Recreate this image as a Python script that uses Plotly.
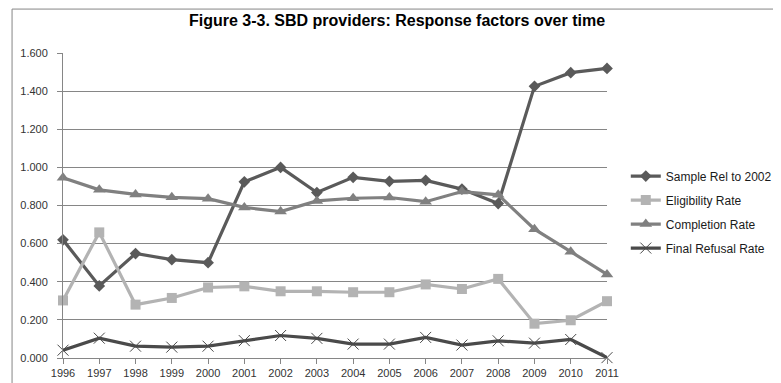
import plotly.graph_objects as go

years = list(range(1996, 2012))
sample_rel = [0.620, 0.378, 0.548, 0.516, 0.500, 0.924, 1.000, 0.868, 0.948, 0.927, 0.932, 0.886, 0.810, 1.425, 1.497, 1.519]
eligibility = [0.302, 0.659, 0.280, 0.315, 0.370, 0.376, 0.350, 0.350, 0.345, 0.345, 0.386, 0.362, 0.415, 0.180, 0.198, 0.298]
completion = [0.945, 0.882, 0.858, 0.843, 0.836, 0.790, 0.768, 0.824, 0.838, 0.842, 0.820, 0.873, 0.856, 0.676, 0.558, 0.438]
final_refusal = [0.041, 0.104, 0.062, 0.057, 0.062, 0.091, 0.118, 0.103, 0.073, 0.073, 0.108, 0.068, 0.090, 0.078, 0.097, 0.002]
y_ticks = [0, 0.2, 0.4, 0.6, 0.8, 1.0, 1.2, 1.4, 1.6]

series = [
    ("Sample Rel to 2002", sample_rel, "#5a5a5a", "diamond", 9, None),
    ("Eligibility Rate", eligibility, "#b3b3b3", "square", 10, None),
    ("Completion Rate", completion, "#808080", "triangle-up", 11, None),
    ("Final Refusal Rate", final_refusal, "#4a4a4a", "x-thin-open", 11, "#4a4a4a"),
]

fig = go.Figure()
for i, (name, vals, color, sym, size, lc) in enumerate(series):
    marker = dict(symbol=sym, size=size, color=color)
    if sym == "x-thin-open":
        marker["line"] = dict(color=lc, width=1)
    fig.add_trace(go.Scatter(
        x=years, y=vals, name=name, mode="lines+markers",
        line=dict(color=color, width=3.2),
        marker=marker, cliponaxis=False, legendgroup=str(i),
    ))

L, R, T, B = 52, 179, 45, 29
W, H = 781, 383
pw, ph = W - L - R, H - T - B

fig.update_layout(
    width=W, height=H,
    margin=dict(l=L, r=R, t=T, b=B),
    paper_bgcolor="white", plot_bgcolor="white",
    title=dict(text="<b>Figure 3-3. SBD providers: Response factors over time</b>",
               x=389 / W, xanchor="center", y=1 - 12 / H, yanchor="middle",
               font=dict(family="Liberation Sans, Arial", size=16, color="black")),
    showlegend=True,
    legend=dict(x=(621 - L) / pw, y=(354 - 174) / ph + 0.04 - 44.5 / ph, xanchor="left", yanchor="middle",
                font=dict(family="Liberation Sans, Arial", size=12, color="#1a1a1a"),
                tracegroupgap=5, bgcolor="rgba(0,0,0,0)"),
    font=dict(family="Liberation Sans, Arial", size=11, color="#404040"),
)
fig.update_xaxes(range=[1996, 2011], tickvals=years, ticktext=[str(y) for y in years],
                 showgrid=False, showline=True, linecolor="#868686", linewidth=1,
                 ticks="outside", ticklen=5, tickcolor="#868686", zeroline=False,
                 tickfont=dict(size=11, color="#333333"))
fig.update_yaxes(range=[0, 1.6], tickvals=y_ticks, tickformat=".3f",
                 showgrid=True, gridcolor="#868686", gridwidth=1,
                 showline=True, linecolor="#868686", linewidth=1,
                 ticks="outside", ticklen=5, tickcolor="#868686", zeroline=False,
                 ticklabelstandoff=7,
                 tickfont=dict(size=11, color="#333333"))

fig.add_shape(type="rect", xref="paper", yref="paper",
              x0=(0.5 - L) / pw, x1=(W - 0.5 - L) / pw,
              y0=(354 - (H - 0.5)) / ph, y1=(354 - 0.5) / ph,
              line=dict(color="#868686", width=1), fillcolor="rgba(0,0,0,0)", layer="below")

fig.write_html("out.html")
